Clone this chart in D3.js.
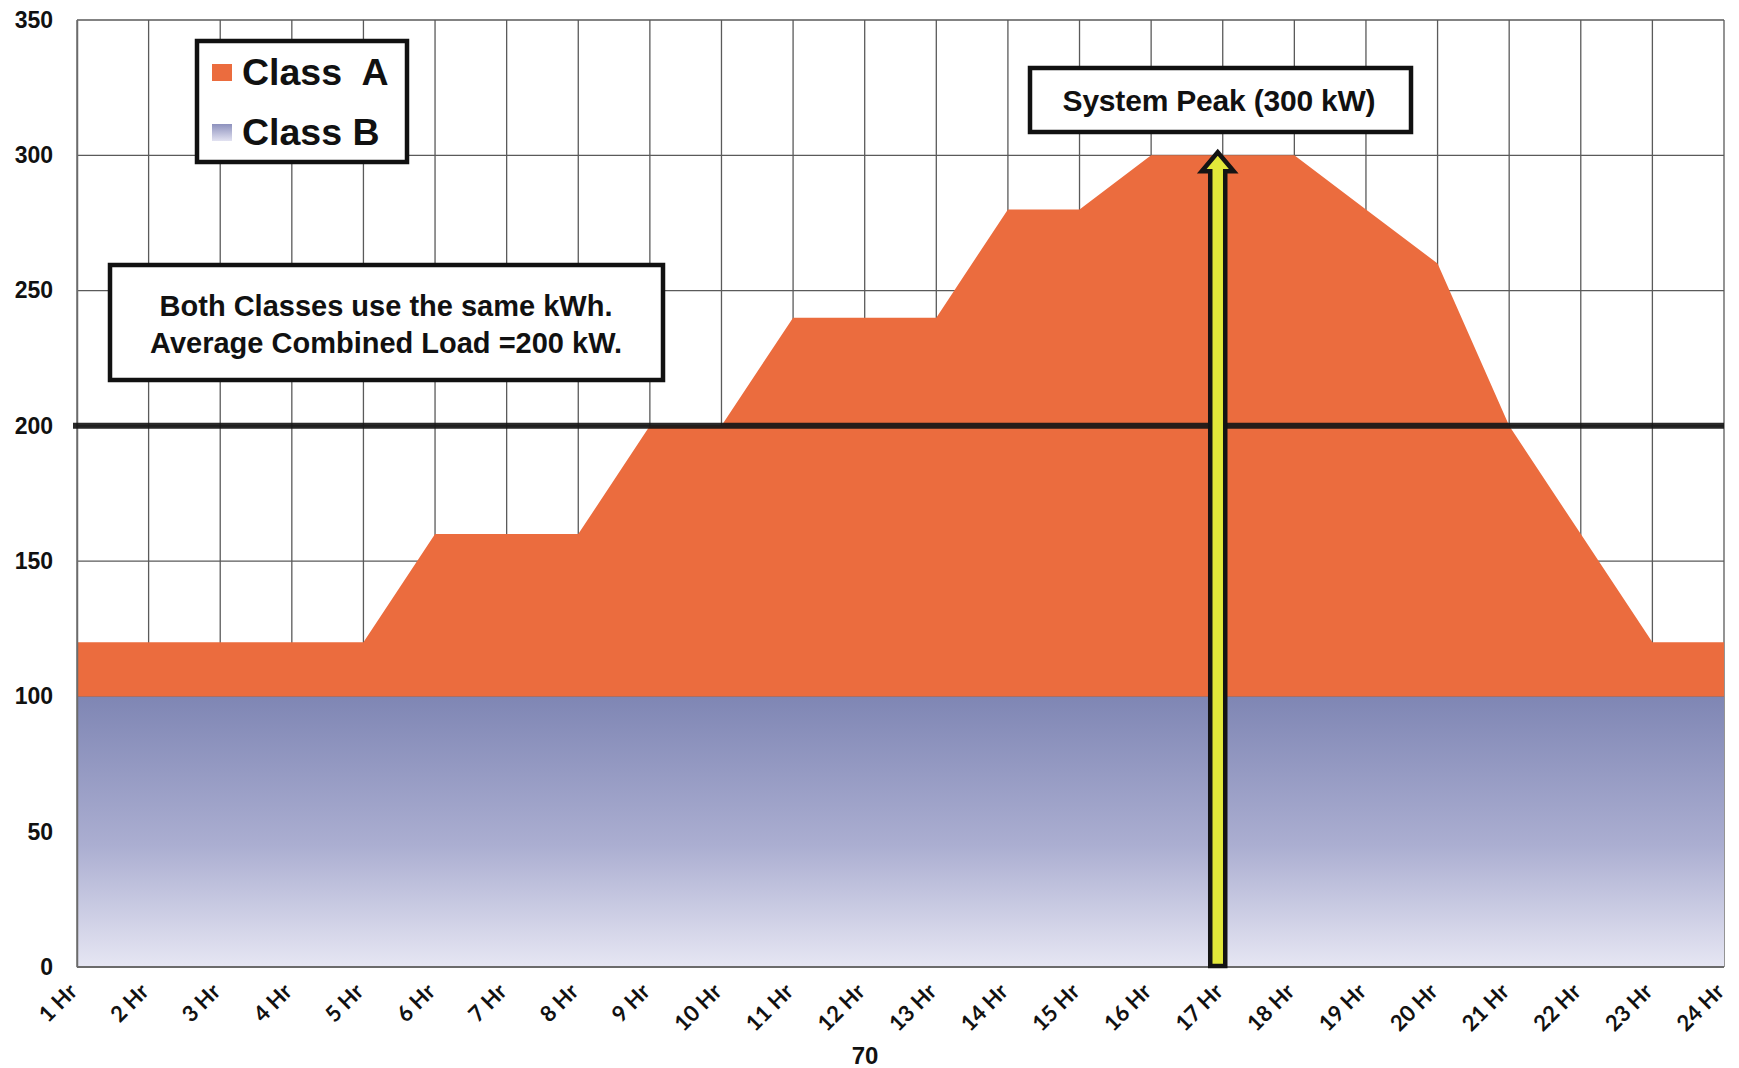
<!DOCTYPE html>
<html>
<head>
<meta charset="utf-8">
<script src="https://cdn.jsdelivr.net/npm/d3@7"></script>
<style>
  html, body { margin: 0; padding: 0; background: #ffffff; }
  svg { display: block; }
</style>
</head>
<body>
<svg id="chart" width="1739" height="1068"></svg>
<script>
// Hourly load for two customer classes (kW)
const hours = ["1 Hr","2 Hr","3 Hr","4 Hr","5 Hr","6 Hr","7 Hr","8 Hr","9 Hr","10 Hr","11 Hr","12 Hr",
               "13 Hr","14 Hr","15 Hr","16 Hr","17 Hr","18 Hr","19 Hr","20 Hr","21 Hr","22 Hr","23 Hr","24 Hr"];
const classB = [100,100,100,100,100,100,100,100,100,100,100,100,100,100,100,100,100,100,100,100,100,100,100,100];
const classA = [20,20,20,20,20,60,60,60,100,100,140,140,140,180,180,200,200,200,180,160,100,60,20,20];
const yTicks = [0,50,100,150,200,250,300,350];
const averageLoad = 200;
const peakHour = "17 Hr";
const peakLoad = 300;
const seriesNames = ["Class  A", "Class B"];
const noteLines = ["Both Classes use the same kWh.", "Average Combined Load =200 kW."];
const peakLabel = "System Peak (300 kW)";
const pageNumber = "70";

const svg = d3.select("#chart");
const W = 1739, H = 1068;
const m = { left: 77, right: 15, top: 20, bottom: 101 };

const x = d3.scalePoint().domain(hours).range([m.left, W - m.right]);
const y = d3.scaleLinear().domain([0, 350]).range([H - m.bottom, m.top]);

const rows = hours.map((h, i) => ({ hour: h, classB: classB[i], classA: classA[i] }));
const stacked = d3.stack().keys(["classB", "classA"])(rows);

// gradient for Class B
const defs = svg.append("defs");
const gB = defs.append("linearGradient").attr("id", "gradB")
  .attr("gradientUnits", "userSpaceOnUse")
  .attr("x1", 0).attr("x2", 0).attr("y1", y(100)).attr("y2", y(0));
gB.append("stop").attr("offset", "0%").attr("stop-color", "#7f86b4");
gB.append("stop").attr("offset", "55%").attr("stop-color", "#abaed1");
gB.append("stop").attr("offset", "100%").attr("stop-color", "#e6e6f3");
const gL = defs.append("linearGradient").attr("id", "gradLegB")
  .attr("x1", 0).attr("x2", 0).attr("y1", 0).attr("y2", 1);
gL.append("stop").attr("offset", "0%").attr("stop-color", "#8d91bd");
gL.append("stop").attr("offset", "100%").attr("stop-color", "#e2e2f1");

const fills = { classB: "url(#gradB)", classA: "#eb6c3e" };

// gridlines
const grid = svg.append("g").attr("stroke", "#5a5a5a").attr("stroke-width", 1.3);
grid.selectAll("line.h").data(yTicks).join("line")
  .attr("x1", m.left).attr("x2", W - m.right)
  .attr("y1", d => y(d)).attr("y2", d => y(d));
grid.selectAll("line.v").data(hours).join("line")
  .attr("x1", d => x(d)).attr("x2", d => x(d))
  .attr("y1", y(350)).attr("y2", y(0));

// stacked areas
const area = d3.area()
  .x(d => x(d.data.hour))
  .y0(d => y(d[0]))
  .y1(d => y(d[1]));
svg.append("g").selectAll("path").data(stacked).join("path")
  .attr("d", area)
  .attr("fill", d => fills[d.key]);

// baseline axis
svg.append("line").attr("x1", m.left).attr("x2", W - m.right)
  .attr("y1", y(0)).attr("y2", y(0)).attr("stroke", "#6b6b6b").attr("stroke-width", 2);

// y tick labels
const yAxis = d3.axisLeft(y).tickValues(yTicks).tickSize(0).tickPadding(24);
const yg = svg.append("g").attr("transform", `translate(${m.left},0)`).call(yAxis);
yg.select(".domain").attr("stroke", "#6b6b6b").attr("stroke-width", 1.5);
yg.selectAll("text")
  .attr("font-family", "'Liberation Sans', Arimo, Arial, sans-serif")
  .attr("font-weight", "bold").attr("font-size", 23).attr("fill", "#111");

// x tick labels, rotated
const xAxis = d3.axisBottom(x).tickSize(0).tickPadding(0);
const xg = svg.append("g").attr("transform", `translate(0,${y(0)})`).call(xAxis);
xg.select(".domain").remove();
xg.selectAll("text")
  .attr("font-family", "Lato, 'Open Sans', sans-serif")
  .attr("font-weight", "bold").attr("font-size", 22).attr("fill", "#111")
  .attr("text-anchor", "end").attr("dy", 0).attr("y", 0)
  .attr("transform", "translate(1,26) rotate(-45)");

// average combined load line
svg.append("line")
  .attr("x1", m.left - 4).attr("x2", W - m.right)
  .attr("y1", y(averageLoad)).attr("y2", y(averageLoad))
  .attr("stroke", "#161616").attr("stroke-width", 6).attr("opacity", 0.92);

// peak arrow
const cx = x(peakHour) - 5;
const tipY = y(peakLoad) - 3;
const baseY = y(0) - 1;
const sw = 7.5, hw = 16, hh = 19;
svg.append("path")
  .attr("d", `M${cx - sw},${baseY} L${cx - sw},${tipY + hh} L${cx - hw},${tipY + hh} L${cx},${tipY}
              L${cx + hw},${tipY + hh} L${cx + sw},${tipY + hh} L${cx + sw},${baseY} Z`)
  .attr("fill", "#e2e83a").attr("stroke", "#141414").attr("stroke-width", 4.5)
  .attr("stroke-linejoin", "miter");

// annotation boxes
function box(x0, y0, w, h) {
  svg.append("rect").attr("x", x0).attr("y", y0).attr("width", w).attr("height", h)
    .attr("fill", "#ffffff").attr("stroke", "#111").attr("stroke-width", 4.5);
}
const annoFont = "'Liberation Sans', Arimo, Arial, sans-serif";

box(1030, 68, 381, 64);
svg.append("text").attr("x", 1219).attr("y", 111).attr("text-anchor", "middle")
  .attr("font-family", annoFont).attr("font-weight", "bold").attr("font-size", 30)
  .attr("letter-spacing", -0.2).attr("fill", "#111").text(peakLabel);

box(110, 265, 553, 115);
svg.append("g").selectAll("text").data(noteLines).join("text")
  .attr("x", 386).attr("y", (d, i) => 316 + i * 37).attr("text-anchor", "middle")
  .attr("font-family", annoFont).attr("font-weight", "bold").attr("font-size", 29)
  .attr("fill", "#111").text(d => d);

// legend
box(197, 41, 210, 121);
const legFills = ["#eb6c3e", "url(#gradLegB)"];
const leg = svg.append("g").selectAll("g").data(seriesNames).join("g")
  .attr("transform", (d, i) => `translate(212,${i * 60})`);
leg.append("rect").attr("x", 0).attr("y", 64).attr("width", 20).attr("height", 17)
  .attr("fill", (d, i) => legFills[i]);
leg.append("text").attr("x", 30).attr("y", 85)
  .attr("font-family", annoFont).attr("font-weight", "bold").attr("font-size", 37.5)
  .attr("fill", "#111").attr("xml:space", "preserve").style("white-space", "pre").text(d => d);

// page number
svg.append("text").attr("x", 865).attr("y", 1064).attr("text-anchor", "middle")
  .attr("font-family", annoFont).attr("font-weight", "bold").attr("font-size", 24)
  .attr("fill", "#111").text(pageNumber);
</script>
</body>
</html>
